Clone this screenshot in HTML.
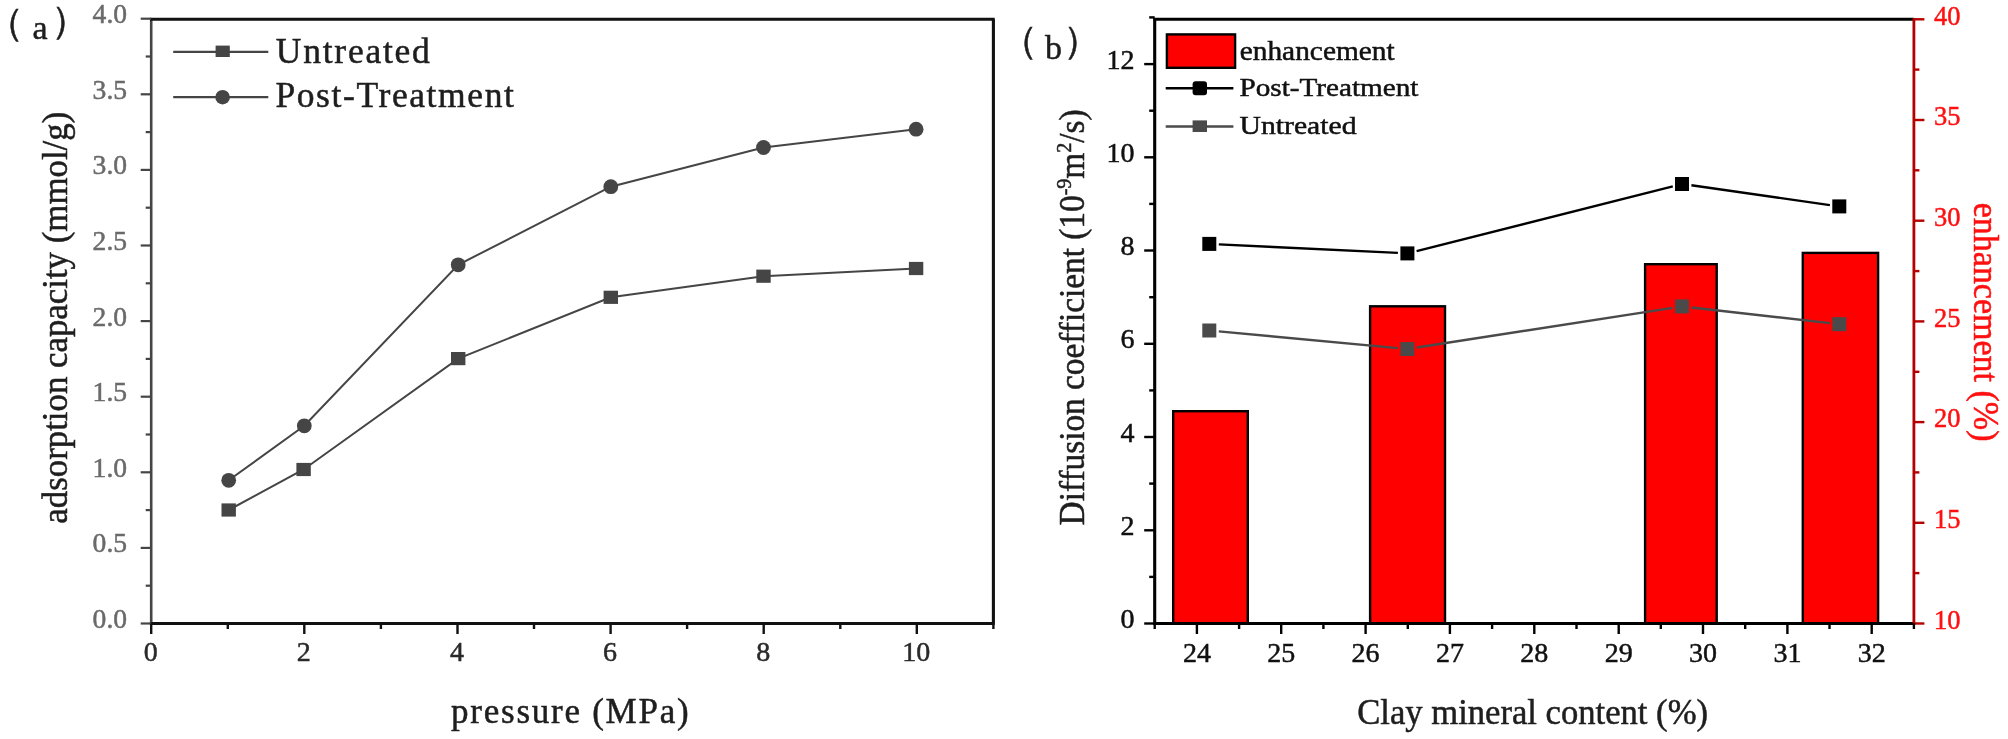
<!DOCTYPE html>
<html lang="en">
<head>
<meta charset="utf-8">
<title>Adsorption capacity and diffusion coefficient charts</title>
<style>
html,body{margin:0;padding:0;background:#fff;}
body{width:2008px;height:739px;overflow:hidden;}
svg{display:block;filter:blur(0.55px);}
svg text{font-family:"Liberation Serif", serif;stroke-width:0.5px;}
</style>
</head>
<body>
<svg width="2008" height="739" viewBox="0 0 2008 739">
<rect width="2008" height="739" fill="#fff"/>
<g id="chartA">
<line x1="151.2" y1="18.1" x2="151.2" y2="624.7" stroke="#454545" stroke-width="2.6"/>
<line x1="150.0" y1="19.3" x2="994.6999999999999" y2="19.3" stroke="#111" stroke-width="3.1"/>
<line x1="993.4" y1="19.3" x2="993.4" y2="623.5" stroke="#111" stroke-width="3.1"/>
<line x1="150.0" y1="623.5" x2="994.6999999999999" y2="623.5" stroke="#111" stroke-width="3.1"/>
<line x1="140.7" y1="623.5" x2="151.2" y2="623.5" stroke="#454545" stroke-width="2.2"/>
<text x="92.6" y="627.9" font-size="27" fill="#6a6a6a" stroke="#6a6a6a" textLength="34.5" lengthAdjust="spacingAndGlyphs">0.0</text>
<line x1="145.7" y1="585.7" x2="151.2" y2="585.7" stroke="#454545" stroke-width="2.2"/>
<line x1="140.7" y1="547.9" x2="151.2" y2="547.9" stroke="#454545" stroke-width="2.2"/>
<text x="92.6" y="552.3" font-size="27" fill="#6a6a6a" stroke="#6a6a6a" textLength="34.5" lengthAdjust="spacingAndGlyphs">0.5</text>
<line x1="145.7" y1="510.1" x2="151.2" y2="510.1" stroke="#454545" stroke-width="2.2"/>
<line x1="140.7" y1="472.3" x2="151.2" y2="472.3" stroke="#454545" stroke-width="2.2"/>
<text x="92.6" y="476.7" font-size="27" fill="#6a6a6a" stroke="#6a6a6a" textLength="34.5" lengthAdjust="spacingAndGlyphs">1.0</text>
<line x1="145.7" y1="434.5" x2="151.2" y2="434.5" stroke="#454545" stroke-width="2.2"/>
<line x1="140.7" y1="396.7" x2="151.2" y2="396.7" stroke="#454545" stroke-width="2.2"/>
<text x="92.6" y="401.1" font-size="27" fill="#6a6a6a" stroke="#6a6a6a" textLength="34.5" lengthAdjust="spacingAndGlyphs">1.5</text>
<line x1="145.7" y1="358.9" x2="151.2" y2="358.9" stroke="#454545" stroke-width="2.2"/>
<line x1="140.7" y1="321.1" x2="151.2" y2="321.1" stroke="#454545" stroke-width="2.2"/>
<text x="92.6" y="325.5" font-size="27" fill="#6a6a6a" stroke="#6a6a6a" textLength="34.5" lengthAdjust="spacingAndGlyphs">2.0</text>
<line x1="145.7" y1="283.3" x2="151.2" y2="283.3" stroke="#454545" stroke-width="2.2"/>
<line x1="140.7" y1="245.5" x2="151.2" y2="245.5" stroke="#454545" stroke-width="2.2"/>
<text x="92.6" y="249.9" font-size="27" fill="#6a6a6a" stroke="#6a6a6a" textLength="34.5" lengthAdjust="spacingAndGlyphs">2.5</text>
<line x1="145.7" y1="207.7" x2="151.2" y2="207.7" stroke="#454545" stroke-width="2.2"/>
<line x1="140.7" y1="169.9" x2="151.2" y2="169.9" stroke="#454545" stroke-width="2.2"/>
<text x="92.6" y="174.3" font-size="27" fill="#6a6a6a" stroke="#6a6a6a" textLength="34.5" lengthAdjust="spacingAndGlyphs">3.0</text>
<line x1="145.7" y1="132.1" x2="151.2" y2="132.1" stroke="#454545" stroke-width="2.2"/>
<line x1="140.7" y1="94.3" x2="151.2" y2="94.3" stroke="#454545" stroke-width="2.2"/>
<text x="92.6" y="98.7" font-size="27" fill="#6a6a6a" stroke="#6a6a6a" textLength="34.5" lengthAdjust="spacingAndGlyphs">3.5</text>
<line x1="145.7" y1="56.5" x2="151.2" y2="56.5" stroke="#454545" stroke-width="2.2"/>
<line x1="140.7" y1="18.7" x2="151.2" y2="18.7" stroke="#454545" stroke-width="2.2"/>
<text x="92.6" y="23.1" font-size="27" fill="#6a6a6a" stroke="#6a6a6a" textLength="34.5" lengthAdjust="spacingAndGlyphs">4.0</text>
<line x1="151.2" y1="623.5" x2="151.2" y2="634.0" stroke="#111" stroke-width="2.4"/>
<text x="150.7" y="661.4" text-anchor="middle" font-size="28" fill="#2a2a2a" stroke="#2a2a2a">0</text>
<line x1="227.8" y1="623.5" x2="227.8" y2="629.0" stroke="#111" stroke-width="2.4"/>
<line x1="304.3" y1="623.5" x2="304.3" y2="634.0" stroke="#111" stroke-width="2.4"/>
<text x="303.8" y="661.4" text-anchor="middle" font-size="28" fill="#2a2a2a" stroke="#2a2a2a">2</text>
<line x1="380.9" y1="623.5" x2="380.9" y2="629.0" stroke="#111" stroke-width="2.4"/>
<line x1="457.5" y1="623.5" x2="457.5" y2="634.0" stroke="#111" stroke-width="2.4"/>
<text x="457.0" y="661.4" text-anchor="middle" font-size="28" fill="#2a2a2a" stroke="#2a2a2a">4</text>
<line x1="534.0" y1="623.5" x2="534.0" y2="629.0" stroke="#111" stroke-width="2.4"/>
<line x1="610.6" y1="623.5" x2="610.6" y2="634.0" stroke="#111" stroke-width="2.4"/>
<text x="610.1" y="661.4" text-anchor="middle" font-size="28" fill="#2a2a2a" stroke="#2a2a2a">6</text>
<line x1="687.1" y1="623.5" x2="687.1" y2="629.0" stroke="#111" stroke-width="2.4"/>
<line x1="763.7" y1="623.5" x2="763.7" y2="634.0" stroke="#111" stroke-width="2.4"/>
<text x="763.2" y="661.4" text-anchor="middle" font-size="28" fill="#2a2a2a" stroke="#2a2a2a">8</text>
<line x1="840.3" y1="623.5" x2="840.3" y2="629.0" stroke="#111" stroke-width="2.4"/>
<line x1="916.8" y1="623.5" x2="916.8" y2="634.0" stroke="#111" stroke-width="2.4"/>
<text x="916.3" y="661.4" text-anchor="middle" font-size="28" fill="#2a2a2a" stroke="#2a2a2a">10</text>
<line x1="993.4" y1="623.5" x2="993.4" y2="629.0" stroke="#111" stroke-width="2.4"/>
<polyline points="228.7,510.0 303.6,469.5 458.2,358.6 610.8,297.3 763.5,276.2 916.1,268.5" fill="none" stroke="#454545" stroke-width="2.0"/>
<polyline points="228.7,480.3 304.3,425.8 458.2,264.8 610.8,186.7 763.5,147.5 916.1,129.2" fill="none" stroke="#454545" stroke-width="2.0"/>
<rect x="221.5" y="503.4" width="14.4" height="13.2" fill="#454545"/>
<rect x="296.4" y="462.9" width="14.4" height="13.2" fill="#454545"/>
<rect x="451.0" y="352.0" width="14.4" height="13.2" fill="#454545"/>
<rect x="603.6" y="290.7" width="14.4" height="13.2" fill="#454545"/>
<rect x="756.3" y="269.6" width="14.4" height="13.2" fill="#454545"/>
<rect x="908.9" y="261.9" width="14.4" height="13.2" fill="#454545"/>
<circle cx="228.7" cy="480.3" r="7.4" fill="#454545"/>
<circle cx="304.3" cy="425.8" r="7.4" fill="#454545"/>
<circle cx="458.2" cy="264.8" r="7.4" fill="#454545"/>
<circle cx="610.8" cy="186.7" r="7.4" fill="#454545"/>
<circle cx="763.5" cy="147.5" r="7.4" fill="#454545"/>
<circle cx="916.1" cy="129.2" r="7.4" fill="#454545"/>
<line x1="173.2" y1="51.8" x2="268.3" y2="51.8" stroke="#454545" stroke-width="2.3"/>
<rect x="215.6" y="45.6" width="14.2" height="11.4" fill="#454545"/>
<line x1="173.2" y1="97.2" x2="268.3" y2="97.2" stroke="#454545" stroke-width="2.3"/>
<circle cx="222.6" cy="97.2" r="7.3" fill="#454545"/>
<text x="275.8" y="62.6" font-size="35.5" fill="#1e1e1e" stroke="#1e1e1e" textLength="154" lengthAdjust="spacing">Untreated</text>
<text x="275.4" y="107.4" font-size="35.5" fill="#1e1e1e" stroke="#1e1e1e" textLength="238.5" lengthAdjust="spacing">Post-Treatment</text>
<text x="451.1" y="723" font-size="35" fill="#1e1e1e" stroke="#1e1e1e" textLength="237.5" lengthAdjust="spacing">pressure (MPa)</text>
<text transform="translate(66.7,523.7) rotate(-90)" font-size="35" fill="#1e1e1e" stroke="#1e1e1e" textLength="412" lengthAdjust="spacingAndGlyphs">adsorption capacity (mmol/g)</text>
<text font-family='"Liberation Serif", "Noto Serif CJK SC", serif' font-size="34" fill="#1e1e1e" stroke="#1e1e1e"><tspan font-size="38" x="-14" y="35.2">（</tspan><tspan x="32.5" y="38.8">a</tspan><tspan font-size="38" x="51" y="32.8">）</tspan></text>
</g>
<g id="chartB">
<rect x="1173.2" y="411.2" width="74.6" height="212.3" fill="#ff0000" stroke="#000" stroke-width="2.4"/>
<rect x="1370.1" y="306.3" width="74.9" height="317.2" fill="#ff0000" stroke="#000" stroke-width="2.4"/>
<rect x="1645.1" y="264.2" width="71.6" height="359.3" fill="#ff0000" stroke="#000" stroke-width="2.4"/>
<rect x="1802.8" y="252.9" width="75.3" height="370.6" fill="#ff0000" stroke="#000" stroke-width="2.4"/>
<line x1="1154.7" y1="18.0" x2="1154.7" y2="624.8" stroke="#000" stroke-width="3.1"/>
<line x1="1153.4" y1="19.3" x2="1913.9" y2="19.3" stroke="#000" stroke-width="3.1"/>
<line x1="1153.4" y1="623.5" x2="1915.2" y2="623.5" stroke="#000" stroke-width="3.1"/>
<line x1="1913.9" y1="18.0" x2="1913.9" y2="623.5" stroke="#b40000" stroke-width="2.8"/>
<line x1="1144.2" y1="623.5" x2="1154.7" y2="623.5" stroke="#000" stroke-width="2.4"/>
<text x="1134.6" y="628.1" text-anchor="end" font-size="28" fill="#111" stroke="#111">0</text>
<line x1="1149.2" y1="576.9" x2="1154.7" y2="576.9" stroke="#000" stroke-width="2.4"/>
<line x1="1144.2" y1="530.3" x2="1154.7" y2="530.3" stroke="#000" stroke-width="2.4"/>
<text x="1134.6" y="534.9" text-anchor="end" font-size="28" fill="#111" stroke="#111">2</text>
<line x1="1149.2" y1="483.6" x2="1154.7" y2="483.6" stroke="#000" stroke-width="2.4"/>
<line x1="1144.2" y1="437.0" x2="1154.7" y2="437.0" stroke="#000" stroke-width="2.4"/>
<text x="1134.6" y="441.6" text-anchor="end" font-size="28" fill="#111" stroke="#111">4</text>
<line x1="1149.2" y1="390.4" x2="1154.7" y2="390.4" stroke="#000" stroke-width="2.4"/>
<line x1="1144.2" y1="343.8" x2="1154.7" y2="343.8" stroke="#000" stroke-width="2.4"/>
<text x="1134.6" y="348.4" text-anchor="end" font-size="28" fill="#111" stroke="#111">6</text>
<line x1="1149.2" y1="297.2" x2="1154.7" y2="297.2" stroke="#000" stroke-width="2.4"/>
<line x1="1144.2" y1="250.5" x2="1154.7" y2="250.5" stroke="#000" stroke-width="2.4"/>
<text x="1134.6" y="255.1" text-anchor="end" font-size="28" fill="#111" stroke="#111">8</text>
<line x1="1149.2" y1="203.9" x2="1154.7" y2="203.9" stroke="#000" stroke-width="2.4"/>
<line x1="1144.2" y1="157.3" x2="1154.7" y2="157.3" stroke="#000" stroke-width="2.4"/>
<text x="1134.6" y="161.9" text-anchor="end" font-size="28" fill="#111" stroke="#111">10</text>
<line x1="1149.2" y1="110.7" x2="1154.7" y2="110.7" stroke="#000" stroke-width="2.4"/>
<line x1="1144.2" y1="64.1" x2="1154.7" y2="64.1" stroke="#000" stroke-width="2.4"/>
<text x="1134.6" y="68.7" text-anchor="end" font-size="28" fill="#111" stroke="#111">12</text>
<line x1="1149.2" y1="17.4" x2="1154.7" y2="17.4" stroke="#000" stroke-width="2.4"/>
<line x1="1913.9" y1="623.5" x2="1924.4" y2="623.5" stroke="#b40000" stroke-width="2.4"/>
<text x="1934" y="628.7" font-size="28" fill="#ff1010" stroke="#ff1010" textLength="26.5" lengthAdjust="spacingAndGlyphs">10</text>
<line x1="1913.9" y1="573.1" x2="1919.4" y2="573.1" stroke="#b40000" stroke-width="2.4"/>
<line x1="1913.9" y1="522.8" x2="1924.4" y2="522.8" stroke="#b40000" stroke-width="2.4"/>
<text x="1934" y="528.0" font-size="28" fill="#ff1010" stroke="#ff1010" textLength="26.5" lengthAdjust="spacingAndGlyphs">15</text>
<line x1="1913.9" y1="472.4" x2="1919.4" y2="472.4" stroke="#b40000" stroke-width="2.4"/>
<line x1="1913.9" y1="422.1" x2="1924.4" y2="422.1" stroke="#b40000" stroke-width="2.4"/>
<text x="1934" y="427.3" font-size="28" fill="#ff1010" stroke="#ff1010" textLength="26.5" lengthAdjust="spacingAndGlyphs">20</text>
<line x1="1913.9" y1="371.8" x2="1919.4" y2="371.8" stroke="#b40000" stroke-width="2.4"/>
<line x1="1913.9" y1="321.4" x2="1924.4" y2="321.4" stroke="#b40000" stroke-width="2.4"/>
<text x="1934" y="326.6" font-size="28" fill="#ff1010" stroke="#ff1010" textLength="26.5" lengthAdjust="spacingAndGlyphs">25</text>
<line x1="1913.9" y1="271.1" x2="1919.4" y2="271.1" stroke="#b40000" stroke-width="2.4"/>
<line x1="1913.9" y1="220.7" x2="1924.4" y2="220.7" stroke="#b40000" stroke-width="2.4"/>
<text x="1934" y="225.9" font-size="28" fill="#ff1010" stroke="#ff1010" textLength="26.5" lengthAdjust="spacingAndGlyphs">30</text>
<line x1="1913.9" y1="170.3" x2="1919.4" y2="170.3" stroke="#b40000" stroke-width="2.4"/>
<line x1="1913.9" y1="120.0" x2="1924.4" y2="120.0" stroke="#b40000" stroke-width="2.4"/>
<text x="1934" y="125.2" font-size="28" fill="#ff1010" stroke="#ff1010" textLength="26.5" lengthAdjust="spacingAndGlyphs">35</text>
<line x1="1913.9" y1="69.6" x2="1919.4" y2="69.6" stroke="#b40000" stroke-width="2.4"/>
<line x1="1913.9" y1="19.3" x2="1924.4" y2="19.3" stroke="#b40000" stroke-width="2.4"/>
<text x="1934" y="24.5" font-size="28" fill="#ff1010" stroke="#ff1010" textLength="26.5" lengthAdjust="spacingAndGlyphs">40</text>
<line x1="1154.7" y1="623.5" x2="1154.7" y2="629.0" stroke="#000" stroke-width="2.4"/>
<line x1="1196.9" y1="623.5" x2="1196.9" y2="634.0" stroke="#000" stroke-width="2.4"/>
<text x="1196.9" y="661.6" text-anchor="middle" font-size="28" fill="#111" stroke="#111">24</text>
<line x1="1239.1" y1="623.5" x2="1239.1" y2="629.0" stroke="#000" stroke-width="2.4"/>
<line x1="1281.2" y1="623.5" x2="1281.2" y2="634.0" stroke="#000" stroke-width="2.4"/>
<text x="1281.2" y="661.6" text-anchor="middle" font-size="28" fill="#111" stroke="#111">25</text>
<line x1="1323.4" y1="623.5" x2="1323.4" y2="629.0" stroke="#000" stroke-width="2.4"/>
<line x1="1365.6" y1="623.5" x2="1365.6" y2="634.0" stroke="#000" stroke-width="2.4"/>
<text x="1365.6" y="661.6" text-anchor="middle" font-size="28" fill="#111" stroke="#111">26</text>
<line x1="1407.8" y1="623.5" x2="1407.8" y2="629.0" stroke="#000" stroke-width="2.4"/>
<line x1="1449.9" y1="623.5" x2="1449.9" y2="634.0" stroke="#000" stroke-width="2.4"/>
<text x="1449.9" y="661.6" text-anchor="middle" font-size="28" fill="#111" stroke="#111">27</text>
<line x1="1492.1" y1="623.5" x2="1492.1" y2="629.0" stroke="#000" stroke-width="2.4"/>
<line x1="1534.3" y1="623.5" x2="1534.3" y2="634.0" stroke="#000" stroke-width="2.4"/>
<text x="1534.3" y="661.6" text-anchor="middle" font-size="28" fill="#111" stroke="#111">28</text>
<line x1="1576.5" y1="623.5" x2="1576.5" y2="629.0" stroke="#000" stroke-width="2.4"/>
<line x1="1618.7" y1="623.5" x2="1618.7" y2="634.0" stroke="#000" stroke-width="2.4"/>
<text x="1618.7" y="661.6" text-anchor="middle" font-size="28" fill="#111" stroke="#111">29</text>
<line x1="1660.8" y1="623.5" x2="1660.8" y2="629.0" stroke="#000" stroke-width="2.4"/>
<line x1="1703.0" y1="623.5" x2="1703.0" y2="634.0" stroke="#000" stroke-width="2.4"/>
<text x="1703.0" y="661.6" text-anchor="middle" font-size="28" fill="#111" stroke="#111">30</text>
<line x1="1745.2" y1="623.5" x2="1745.2" y2="629.0" stroke="#000" stroke-width="2.4"/>
<line x1="1787.4" y1="623.5" x2="1787.4" y2="634.0" stroke="#000" stroke-width="2.4"/>
<text x="1787.4" y="661.6" text-anchor="middle" font-size="28" fill="#111" stroke="#111">31</text>
<line x1="1829.5" y1="623.5" x2="1829.5" y2="629.0" stroke="#000" stroke-width="2.4"/>
<line x1="1871.7" y1="623.5" x2="1871.7" y2="634.0" stroke="#000" stroke-width="2.4"/>
<text x="1871.7" y="661.6" text-anchor="middle" font-size="28" fill="#111" stroke="#111">32</text>
<line x1="1913.9" y1="623.5" x2="1913.9" y2="629.0" stroke="#000" stroke-width="2.4"/>
<line x1="1218.8" y1="244.4" x2="1397.9" y2="252.9" stroke="#000" stroke-width="2.4"/>
<line x1="1416.6" y1="251.1" x2="1672.8" y2="186.3" stroke="#000" stroke-width="2.4"/>
<line x1="1691.4" y1="185.3" x2="1829.9" y2="205.1" stroke="#000" stroke-width="2.4"/>
<line x1="1218.8" y1="331.4" x2="1397.9" y2="348.1" stroke="#4a4a4a" stroke-width="2.4"/>
<line x1="1416.8" y1="347.5" x2="1672.6" y2="307.9" stroke="#4a4a4a" stroke-width="2.4"/>
<line x1="1691.4" y1="307.5" x2="1829.9" y2="323.1" stroke="#4a4a4a" stroke-width="2.4"/>
<rect x="1202.3" y="236.9" width="14" height="14" fill="#000"/>
<rect x="1400.4" y="246.4" width="14" height="14" fill="#000"/>
<rect x="1675.0" y="177.0" width="14" height="14" fill="#000"/>
<rect x="1832.3" y="199.4" width="14" height="14" fill="#000"/>
<rect x="1202.3" y="323.5" width="14" height="14" fill="#4a4a4a"/>
<rect x="1400.4" y="342.0" width="14" height="14" fill="#4a4a4a"/>
<rect x="1675.0" y="299.4" width="14" height="14" fill="#4a4a4a"/>
<rect x="1832.3" y="317.2" width="14" height="14" fill="#4a4a4a"/>
<rect x="1166.9" y="34.4" width="68.2" height="33.4" fill="#ff0000" stroke="#000" stroke-width="2.4"/>
<text x="1239.7" y="59.8" font-size="27" fill="#111" stroke="#111" textLength="155" lengthAdjust="spacingAndGlyphs">enhancement</text>
<line x1="1165.7" y1="88.2" x2="1233.4" y2="88.2" stroke="#000" stroke-width="2.4"/>
<rect x="1192.6" y="81.2" width="14.4" height="14" rx="3" fill="#000"/>
<text x="1239.5" y="96" font-size="26" fill="#111" stroke="#111" textLength="179" lengthAdjust="spacingAndGlyphs">Post-Treatment</text>
<line x1="1165.7" y1="126.5" x2="1233.4" y2="126.5" stroke="#4a4a4a" stroke-width="2.4"/>
<rect x="1192.6" y="120.4" width="14.4" height="11.6" fill="#4a4a4a"/>
<text x="1239.5" y="134" font-size="26" fill="#111" stroke="#111" textLength="117" lengthAdjust="spacingAndGlyphs">Untreated</text>
<text x="1357.2" y="723.9" font-size="35" fill="#1e1e1e" stroke="#1e1e1e" textLength="350.8" lengthAdjust="spacingAndGlyphs">Clay mineral content (%)</text>
<text transform="translate(1084,525.4) rotate(-90)" font-size="35" fill="#1e1e1e" stroke="#1e1e1e" textLength="416" lengthAdjust="spacingAndGlyphs">Diffusion coefficient (10<tspan font-size="21" dy="-13">-9</tspan><tspan dy="13">m</tspan><tspan font-size="21" dy="-13">2</tspan><tspan dy="13">/s)</tspan></text>
<text transform="translate(1974,202.7) rotate(90)" font-size="35" fill="#ff1010" stroke="#ff1010" textLength="238.8" lengthAdjust="spacingAndGlyphs">enhancement (%)</text>
<text font-family='"Liberation Serif", "Noto Serif CJK SC", serif' font-size="34" fill="#1e1e1e" stroke="#1e1e1e"><tspan font-size="38" x="1000.2" y="53.2">（</tspan><tspan x="1045" y="59.2">b</tspan><tspan font-size="38" x="1062.9" y="53.2">）</tspan></text>
</g>
</svg>
</body>
</html>
